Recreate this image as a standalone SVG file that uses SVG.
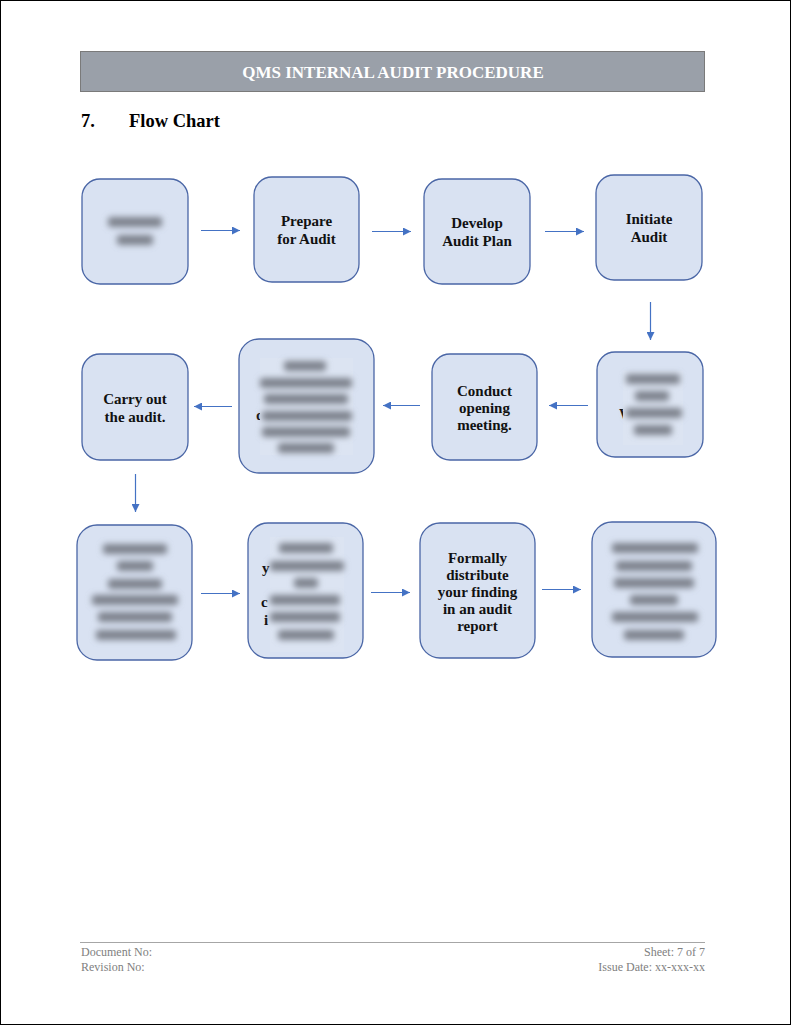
<svg xmlns="http://www.w3.org/2000/svg" width="791" height="1025" viewBox="0 0 791 1025">
<style>
.node{fill:#d9e2f2;stroke:#4a66a6;stroke-width:1.3}
.lbl{font-family:"Liberation Serif","DejaVu Serif",serif;font-weight:bold;font-size:15px;fill:#111;text-anchor:middle}
.frag{font-family:"Liberation Serif","DejaVu Serif",serif;font-weight:bold;font-size:15px;fill:#111}
.bar{fill:#7d828c}
.veil{fill:#dce4f2}
.conn{stroke:#4472c4;stroke-width:1.2;fill:none;marker-end:url(#ah)}
.foot{font-family:"Liberation Serif","DejaVu Serif",serif;font-size:12px;fill:#808080}
</style>
<defs>
<marker id="ah" viewBox="0 0 10 10" refX="10" refY="5" markerWidth="8" markerHeight="8" markerUnits="userSpaceOnUse" orient="auto">
<path d="M0,0 L10,5 L0,10 z" fill="#4472c4"/>
</marker>
<filter id="blur" x="-30%" y="-60%" width="160%" height="220%"><feGaussianBlur stdDeviation="3.4"/></filter>
</defs>
<rect x="0.5" y="0.5" width="790" height="1024" fill="#fff" stroke="#000" stroke-width="1"/>
<g id="header">
<rect x="80.5" y="51.5" width="624" height="40" fill="#9aa0a9" stroke="#7a7a7a" stroke-width="1"/>
<text x="393" y="77.5" font-family="Liberation Serif, DejaVu Serif, serif" font-weight="bold" font-size="17" fill="#fff" text-anchor="middle">QMS INTERNAL AUDIT PROCEDURE</text>
<text x="81" y="127" font-family="Liberation Serif, DejaVu Serif, serif" font-weight="bold" font-size="18.5" fill="#000">7.</text>
<text x="129" y="127" font-family="Liberation Serif, DejaVu Serif, serif" font-weight="bold" font-size="18.5" fill="#000">Flow Chart</text>
</g>
<g id="connectors">
<line class="conn" x1="201" y1="230.5" x2="240" y2="230.5"/>
<line class="conn" x1="372" y1="231.5" x2="411" y2="231.5"/>
<line class="conn" x1="545" y1="231.5" x2="584" y2="231.5"/>
<line class="conn" x1="650.5" y1="302" x2="650.5" y2="340"/>
<line class="conn" x1="588" y1="405.5" x2="549" y2="405.5"/>
<line class="conn" x1="420" y1="405.5" x2="383" y2="405.5"/>
<line class="conn" x1="232" y1="406.5" x2="194" y2="406.5"/>
<line class="conn" x1="135.5" y1="474" x2="135.5" y2="512"/>
<line class="conn" x1="201" y1="593.5" x2="240" y2="593.5"/>
<line class="conn" x1="371" y1="592.5" x2="410" y2="592.5"/>
<line class="conn" x1="542" y1="589.5" x2="581" y2="589.5"/>
</g>
<g id="n1">
<rect class="node" x="82" y="179" width="106" height="105" rx="18"/>
<g filter="url(#blur)"><rect class="bar" x="108" y="217" width="54" height="10" rx="3"/><rect class="bar" x="117" y="235" width="36" height="10" rx="3"/></g>
</g>
<g id="n2">
<rect class="node" x="254" y="177" width="105" height="105" rx="18"/>
<text class="lbl" x="306.5" y="226">Prepare</text>
<text class="lbl" x="306.5" y="244">for Audit</text>
</g>
<g id="n3">
<rect class="node" x="424" y="179" width="106" height="105" rx="18"/>
<text class="lbl" x="477" y="228">Develop</text>
<text class="lbl" x="477" y="246">Audit Plan</text>
</g>
<g id="n4">
<rect class="node" x="596" y="175" width="106" height="105" rx="18"/>
<text class="lbl" x="649" y="224">Initiate</text>
<text class="lbl" x="649" y="242">Audit</text>
</g>
<g id="n5">
<rect class="node" x="597" y="352" width="106" height="105" rx="18"/>
<text class="frag" x="619" y="419">W</text>
<rect class="veil" x="623" y="371" width="60" height="74"/>
<g filter="url(#blur)"><rect class="bar" x="626" y="374" width="54" height="10" rx="3"/><rect class="bar" x="635" y="391" width="34" height="10" rx="3"/><rect class="bar" x="626" y="408" width="56" height="10" rx="3"/><rect class="bar" x="634" y="425" width="38" height="10" rx="3"/></g>
</g>
<g id="n6">
<rect class="node" x="239" y="339" width="135" height="134" rx="20"/>
<text class="frag" x="256" y="420">d</text>
<rect class="veil" x="260" y="358" width="93" height="97"/>
<g filter="url(#blur)"><rect class="bar" x="284" y="361" width="42" height="10" rx="3"/><rect class="bar" x="260" y="378" width="92" height="10" rx="3"/><rect class="bar" x="264" y="394" width="84" height="10" rx="3"/><rect class="bar" x="262" y="411" width="90" height="10" rx="3"/><rect class="bar" x="262" y="427" width="88" height="10" rx="3"/><rect class="bar" x="278" y="443" width="56" height="10" rx="3"/></g>
</g>
<g id="n7">
<rect class="node" x="432" y="354" width="105" height="106" rx="18"/>
<text class="lbl" x="484.5" y="396">Conduct</text>
<text class="lbl" x="484.5" y="413">opening</text>
<text class="lbl" x="484.5" y="430">meeting.</text>
</g>
<g id="n8">
<rect class="node" x="82" y="354" width="106" height="106" rx="18"/>
<text class="lbl" x="135" y="404">Carry out</text>
<text class="lbl" x="135" y="422">the audit.</text>
</g>
<g id="n9">
<rect class="node" x="77" y="525" width="115" height="135" rx="20"/>
<g filter="url(#blur)"><rect class="bar" x="103" y="544" width="64" height="10" rx="3"/><rect class="bar" x="117" y="561" width="36" height="10" rx="3"/><rect class="bar" x="108" y="579" width="54" height="10" rx="3"/><rect class="bar" x="92" y="595" width="86" height="10" rx="3"/><rect class="bar" x="98" y="612" width="74" height="10" rx="3"/><rect class="bar" x="96" y="630" width="80" height="10" rx="3"/></g>
</g>
<g id="n10">
<rect class="node" x="248" y="523" width="115" height="135" rx="20"/>
<text class="frag" x="262" y="573">y</text>
<text class="frag" x="261" y="607">c</text>
<text class="frag" x="264" y="625">i</text>
<rect class="veil" x="270" y="537" width="74" height="115"/>
<g filter="url(#blur)"><rect class="bar" x="279" y="543" width="54" height="10" rx="3"/><rect class="bar" x="270" y="561" width="74" height="10" rx="3"/><rect class="bar" x="294" y="578" width="24" height="10" rx="3"/><rect class="bar" x="270" y="595" width="70" height="10" rx="3"/><rect class="bar" x="270" y="612" width="70" height="10" rx="3"/><rect class="bar" x="278" y="630" width="56" height="10" rx="3"/></g>
</g>
<g id="n11">
<rect class="node" x="420" y="523" width="115" height="135" rx="20"/>
<text class="lbl" x="477.5" y="563">Formally</text>
<text class="lbl" x="477.5" y="580">distribute</text>
<text class="lbl" x="477.5" y="597">your finding</text>
<text class="lbl" x="477.5" y="614">in an audit</text>
<text class="lbl" x="477.5" y="631">report</text>
</g>
<g id="n12">
<rect class="node" x="592" y="522" width="124" height="135" rx="20"/>
<g filter="url(#blur)"><rect class="bar" x="612" y="543" width="86" height="10" rx="3"/><rect class="bar" x="616" y="561" width="76" height="10" rx="3"/><rect class="bar" x="614" y="578" width="80" height="10" rx="3"/><rect class="bar" x="630" y="595" width="48" height="10" rx="3"/><rect class="bar" x="612" y="612" width="86" height="10" rx="3"/><rect class="bar" x="624" y="630" width="60" height="10" rx="3"/></g>
</g>
<g id="footer">
<line x1="80" y1="942.5" x2="705" y2="942.5" stroke="#a6a6a6" stroke-width="1"/>
<text class="foot" x="81" y="956">Document No:</text>
<text class="foot" x="81" y="971">Revision No:</text>
<text class="foot" x="705" y="956" text-anchor="end">Sheet: 7 of 7</text>
<text class="foot" x="705" y="971" text-anchor="end">Issue Date: xx-xxx-xx</text>
</g>
</svg>
